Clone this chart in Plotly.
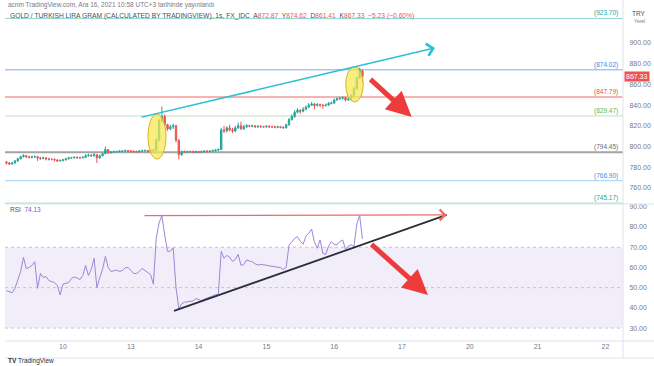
import plotly.graph_objects as go

# ---------------- data ----------------
DAY_TICKS = [1, 2, 3, 4, 5, 6, 7, 8, 9]
DAY_LABELS = ["10", "13", "14", "15", "16", "17", "20", "21", "22"]

# trading sessions: (trading-day index, first hour, last hour)  Dec 9,10,13,14,15,16
SESSIONS = [(0, 4, 23), (1, 0, 23), (2, 0, 23), (3, 0, 23), (4, 0, 23), (5, 0, 10)]

OPEN_DEC09 = [785, 784, 783, 784, 786, 788, 790, 791, 790, 789.5, 790, 790, 789, 788.5, 789, 788, 787.5, 787.5, 787, 786]
CLOSE_DEC09 = [784, 783, 784, 786, 788, 790, 791, 790, 789.5, 790, 790, 789, 788.5, 789, 788, 787.5, 787.5, 787, 786, 786.5]
HIGH_DEC09 = [786, 785, 785, 787, 789, 791, 792.5, 792, 791, 791, 791.5, 791, 790, 790, 789.5, 789, 788.5, 788.5, 787.5, 787.5]
LOW_DEC09 = [782.5, 782, 782.5, 783.5, 785.5, 787.5, 789.5, 789, 788.5, 788.5, 789, 786, 787, 787.5, 786.5, 786.5, 786.5, 785.5, 785, 785.5]

OPEN_DEC10 = [786.5, 787, 788, 789, 789, 789.5, 789, 789, 789.5, 791, 791.5, 791, 792, 789, 791, 793, 797, 794, 794.5, 795, 795, 795.5, 795.5, 796]
CLOSE_DEC10 = [787, 788, 789, 789, 789.5, 789, 789, 789.5, 791, 791.5, 791, 792, 789, 791, 793, 797, 794, 794.5, 795, 795, 795.5, 795.5, 796, 795.5]
HIGH_DEC10 = [788, 789, 790, 790, 790.5, 790.5, 790, 790.5, 792.5, 793, 792.5, 793.5, 792.5, 792, 794, 800, 797.5, 795.5, 796, 796, 796.5, 796.5, 797, 796.5]
LOW_DEC10 = [785.5, 786.5, 787.5, 788, 788.5, 788, 788, 788.5, 789, 790, 790, 790.5, 784, 788, 790.5, 792.5, 792.5, 793, 794, 794, 794.5, 794.5, 795, 794.5]

OPEN_DEC13 = [795.5, 795.5, 795, 795, 795.5, 796, 796, 795.5, 796, 796.5, 806, 825, 829, 821, 817, 819, 820, 806, 792, 795, 794.5, 795, 795, 794.5]
CLOSE_DEC13 = [795.5, 795, 795, 795.5, 796, 796, 795.5, 796, 796.5, 806, 825, 829, 821, 817, 819, 820, 806, 792, 795, 794.5, 795, 795, 794.5, 795]
HIGH_DEC13 = [796.5, 796, 796, 796.5, 797, 797, 796.5, 797, 797.5, 808, 827, 838.5, 831, 822, 821, 822, 821, 807, 796, 796, 796, 796, 796, 796]
LOW_DEC13 = [794.5, 794, 794, 794.5, 795, 795, 794.5, 795, 795, 795.5, 805, 823, 819, 815, 815.5, 817, 804, 787.5, 791, 793.5, 793.5, 794, 793.5, 793.5]

OPEN_DEC14 = [795, 794.5, 795, 795.5, 795, 795.5, 796, 796.5, 797, 816, 815, 818, 816, 815, 818, 820, 817, 819, 820, 819.5, 820, 819, 819.5, 819]
CLOSE_DEC14 = [794.5, 795, 795.5, 795, 795.5, 796, 796.5, 797, 816, 815, 818, 816, 815, 818, 820, 817, 819, 820, 819.5, 820, 819, 819.5, 819, 819]
HIGH_DEC14 = [795.5, 796, 796.5, 796.5, 796.5, 797, 797.5, 798, 818, 820, 819.5, 821, 818, 820, 823, 824, 821, 821.5, 821, 821, 820.5, 820.5, 820.5, 820]
LOW_DEC14 = [793.5, 793.5, 794, 794, 794.5, 795, 795, 795.5, 796.5, 813, 813.5, 814.5, 813, 814, 817, 816, 816, 818, 818.5, 818.5, 818, 818, 818, 818]

OPEN_DEC15 = [819, 819.5, 819, 819, 818.5, 819, 818.5, 818, 821, 826, 829, 833, 835, 834, 836, 838, 840, 841, 839.5, 840.5, 840, 839.5, 840, 841.5]
CLOSE_DEC15 = [819.5, 819, 819, 818.5, 819, 818.5, 818, 821, 826, 829, 833, 835, 834, 836, 838, 840, 841, 839.5, 840.5, 840, 839.5, 840, 841.5, 842]
HIGH_DEC15 = [820.5, 820.5, 820, 820, 820, 819.5, 819.5, 822, 827.5, 831, 835, 837, 836, 838, 839.5, 842, 843, 842, 842, 841.5, 841, 841.5, 843, 843.5]
LOW_DEC15 = [818, 818, 818, 817.5, 817.5, 817.5, 817, 817.5, 820, 825, 827.5, 832, 831.5, 833, 835, 837, 839, 836, 838.5, 838, 836.5, 838.5, 839, 840.5]

OPEN_DEC16 = [842, 845, 846, 846.5, 847, 845, 845.5, 849, 856, 866, 872.87]
CLOSE_DEC16 = [845, 846, 846.5, 847, 845, 845.5, 849, 856, 866, 874, 867.33]
HIGH_DEC16 = [846.5, 847.5, 848, 848.5, 848, 847, 850.5, 857.5, 867.5, 876, 874.62]
LOW_DEC16 = [841, 844, 845, 845.5, 843.5, 844, 844.5, 848, 855, 865, 861.41]

RSI_DEC09 = [48.5, 47.8, 47.5, 49.7, 53.5, 58, 65, 59.5, 60, 61, 62.9, 49.7, 57, 55, 55.5, 53.5, 53, 52.5, 51, 46.4]
RSI_DEC10 = [51.8, 52, 52.5, 54.5, 55.3, 54.8, 54, 56, 61, 56, 59, 64.5, 50, 55, 59, 65.5, 60, 58, 58.3, 58.7, 58, 58.5, 59.8, 60]
RSI_DEC13 = [58.6, 57, 57, 58, 59.5, 58.6, 57.8, 56.5, 51.7, 74.5, 82, 85.7, 76, 68, 68, 69.8, 50, 39.5, 42, 42.8, 43, 43.2, 43.4, 44.6]
RSI_DEC14 = [44, 43.6, 44.3, 44.8, 45.5, 46, 46.4, 47, 68, 64.5, 66, 65, 63, 64, 66.5, 61, 61.5, 63.7, 63.2, 62.8, 61.8, 61.2, 61.5, 61.4]
RSI_DEC15 = [61.1, 60.8, 60.6, 60.4, 60.1, 59.9, 59, 60, 71, 73, 74.4, 75.2, 73, 71.5, 75.5, 77, 79, 72.5, 69.5, 73.6, 67, 66.5, 70.5, 72.8]
RSI_DEC16 = [71.5, 71.2, 72.8, 73.6, 69, 70.5, 71.2, 70.3, 81.5, 85.7, 74.13]

LEVELS = [923.70, 874.02, 847.79, 829.47, 794.45, 766.90, 745.17]
LEVEL_LABELS = ["(923.70)", "(874.02)", "(847.79)", "(829.47)", "(794.45)", "(766.90)", "(745.17)"]

PRICE_TICKS = [760, 780, 800, 820, 840, 860, 880, 900]
RSI_TICKS = [30, 40, 50, 60, 70, 80, 90]
LAST_PRICE = 867.33
LAST_RSI = 74.13

# ---------------- assemble ----------------
OPEN = OPEN_DEC09 + OPEN_DEC10 + OPEN_DEC13 + OPEN_DEC14 + OPEN_DEC15 + OPEN_DEC16
HIGH = HIGH_DEC09 + HIGH_DEC10 + HIGH_DEC13 + HIGH_DEC14 + HIGH_DEC15 + HIGH_DEC16
LOW = LOW_DEC09 + LOW_DEC10 + LOW_DEC13 + LOW_DEC14 + LOW_DEC15 + LOW_DEC16
CLOSE = CLOSE_DEC09 + CLOSE_DEC10 + CLOSE_DEC13 + CLOSE_DEC14 + CLOSE_DEC15 + CLOSE_DEC16
RSI = RSI_DEC09 + RSI_DEC10 + RSI_DEC13 + RSI_DEC14 + RSI_DEC15 + RSI_DEC16

X = []
for d, h0, h1 in SESSIONS:
    for h in range(h0, h1 + 1):
        X.append(d + h / 24.0)

assert len(X) == len(OPEN) == len(HIGH) == len(LOW) == len(CLOSE) == len(RSI), \
    (len(X), len(OPEN), len(HIGH), len(LOW), len(CLOSE), len(RSI))

# ---------------- styling / layout geometry ----------------
W, H = 654, 366
ML, MR, MT, MB = 5, 31, 0, 25
PW, PH = W - ML - MR, H - MT - MB
SPLIT = 137 / PH  # paper fraction of RSI pane

FONT = "Liberation Sans, Arial, sans-serif"
GREY = "#787b86"
UP, DOWN = "#26a69a", "#ef5350"

LEVEL_LINE_COLORS = ["#8fd6d0", "#7fa6ee", "#f59a9a", "#bfe0bf", "#a3a3a3", "#9fd0f5", "#8fd6d0"]
LEVEL_TEXT_COLORS = ["#26a69a", "#4a7fe0", "#e5534b", "#5cb860", "#6b6e78", "#3d8fe0", "#26a69a"]
LEVEL_WIDTHS = [1, 1, 1.6, 1, 2, 1, 1]


def px(xp):
    return (xp - ML) / PW


def py(yp):
    return (PH - (yp - MT)) / PH


fig = go.Figure()

fig.add_trace(go.Candlestick(
    x=X, open=OPEN, high=HIGH, low=LOW, close=CLOSE,
    increasing=dict(line=dict(color=UP, width=1), fillcolor=UP),
    decreasing=dict(line=dict(color=DOWN, width=1), fillcolor=DOWN),
    whiskerwidth=0, xaxis="x", yaxis="y", showlegend=False, hoverinfo="skip",
))

fig.add_trace(go.Scatter(
    x=X, y=RSI, mode="lines", line=dict(color="#9d86d6", width=1),
    xaxis="x2", yaxis="y2", showlegend=False, hoverinfo="skip",
))

shapes = []
annotations = []

# RSI band + dashed guides
shapes.append(dict(type="rect", xref="paper", yref="y2", x0=0, x1=1, y0=30, y1=70,
                   fillcolor="rgba(126,87,194,0.10)", line=dict(width=0), layer="below"))
for lv in (70, 50, 30):
    shapes.append(dict(type="line", xref="paper", yref="y2", x0=0, x1=1, y0=lv, y1=lv,
                       line=dict(color="#c3c5cc", width=1, dash="3px,3px"), layer="below"))

# horizontal price levels
for lv, lab, lc, tc, lw in zip(LEVELS, LEVEL_LABELS, LEVEL_LINE_COLORS, LEVEL_TEXT_COLORS, LEVEL_WIDTHS):
    shapes.append(dict(type="line", xref="paper", yref="y", x0=0, x1=1, y0=lv, y1=lv,
                       line=dict(color=lc, width=lw), layer="below"))
    annotations.append(dict(xref="paper", yref="y", x=px(620), y=lv, text=lab, showarrow=False,
                            xanchor="right", yanchor="bottom", yshift=-1,
                            font=dict(family=FONT, size=6.5, color=tc)))

# highlight ellipses
ELLIPSE_1 = (2.254, 2.519, 787.9, 831.4)
ELLIPSE_2 = (5.170, 5.429, 843.0, 877.1)
for x0, x1, y0, y1 in (ELLIPSE_1, ELLIPSE_2):
    shapes.append(dict(type="circle", xref="x", yref="y", x0=x0, x1=x1, y0=y0, y1=y1,
                       fillcolor="rgba(248,232,80,0.72)", line=dict(color="#d8b32a", width=1),
                       layer="above"))

# rising trend line on price (cyan, open arrow)
TREND_PRICE = ((2.136, 828.0), (6.487, 895.2))
annotations.append(dict(xref="x", yref="y", axref="x", ayref="y",
                        x=TREND_PRICE[1][0], y=TREND_PRICE[1][1],
                        ax=TREND_PRICE[0][0], ay=TREND_PRICE[0][1],
                        text="", showarrow=True, arrowhead=4, arrowsize=1.6, arrowwidth=1.5,
                        arrowcolor="#2bbfd6"))

# RSI horizontal red line with open arrow
TREND_RSI_TOP = ((2.18, 85.6), (6.659, 86.0))
annotations.append(dict(xref="x2", yref="y2", axref="x2", ayref="y2",
                        x=TREND_RSI_TOP[1][0], y=TREND_RSI_TOP[1][1],
                        ax=TREND_RSI_TOP[0][0], ay=TREND_RSI_TOP[0][1],
                        text="", showarrow=True, arrowhead=4, arrowsize=1.6, arrowwidth=1.3,
                        arrowcolor="#f06a6a"))

# RSI rising support line (black)
TREND_RSI_LOW = ((2.637, 38.5), (6.659, 86.0))
shapes.append(dict(type="line", xref="x2", yref="y2",
                   x0=TREND_RSI_LOW[0][0], y0=TREND_RSI_LOW[0][1],
                   x1=TREND_RSI_LOW[1][0], y1=TREND_RSI_LOW[1][1],
                   line=dict(color="#2a2e39", width=1.8), layer="above"))

# big red arrows
ARROW_PRICE = ((5.513, 866.2), (6.143, 828.5))
ARROW_RSI = ((5.528, 72.1), (6.383, 46.4))
annotations.append(dict(xref="x", yref="y", axref="x", ayref="y",
                        x=ARROW_PRICE[1][0], y=ARROW_PRICE[1][1],
                        ax=ARROW_PRICE[0][0], ay=ARROW_PRICE[0][1],
                        text="", showarrow=True, arrowhead=2, arrowsize=1.0, arrowwidth=5,
                        arrowcolor="#ee3b3b"))
annotations.append(dict(xref="x2", yref="y2", axref="x2", ayref="y2",
                        x=ARROW_RSI[1][0], y=ARROW_RSI[1][1],
                        ax=ARROW_RSI[0][0], ay=ARROW_RSI[0][1],
                        text="", showarrow=True, arrowhead=2, arrowsize=1.0, arrowwidth=5,
                        arrowcolor="#ee3b3b"))

# pane borders
BORDER = "#e0e3eb"
shapes.append(dict(type="line", xref="paper", yref="paper", x0=0, x1=px(W), y0=SPLIT, y1=SPLIT,
                   line=dict(color=BORDER, width=1)))
shapes.append(dict(type="line", xref="paper", yref="paper", x0=0, x1=px(W), y0=0, y1=0,
                   line=dict(color=BORDER, width=1)))
shapes.append(dict(type="line", xref="paper", yref="paper", x0=0, x1=px(W), y0=py(358), y1=py(358),
                   line=dict(color=BORDER, width=1)))
shapes.append(dict(type="line", xref="paper", yref="paper", x0=1, x1=1, y0=py(358), y1=1,
                   line=dict(color=BORDER, width=1)))

# last price tag
annotations.append(dict(xref="paper", yref="y", x=1, y=LAST_PRICE, text=f"{LAST_PRICE:.2f}",
                        showarrow=False, xanchor="left", yanchor="middle", xshift=1,
                        bgcolor="#ef5350", borderpad=1,
                        font=dict(family=FONT, size=7, color="white")))

# header texts
annotations.append(dict(xref="paper", yref="paper", x=px(6), y=py(5), xanchor="left", yanchor="middle",
                        showarrow=False,
                        text="acnm TradingView.com, Ara 16, 2021 10:58 UTC+3 tarihinde yayınlandı",
                        font=dict(family=FONT, size=6.5, color=GREY)))
RED = "#ef5350"
hdr2 = ("GOLD / TURKISH LIRA GRAM (CALCULATED BY TRADINGVIEW), 1s, FX_IDC  "
        f"A<span style='color:{RED}'>872.87</span>  Y<span style='color:{RED}'>874.62</span>  "
        f"D<span style='color:{RED}'>861.41</span>  K<span style='color:{RED}'>867.33</span>  "
        f"<span style='color:{RED}'>−5.23 (−0.60%)</span>")
annotations.append(dict(xref="paper", yref="paper", x=px(8), y=py(16), xanchor="left", yanchor="middle",
                        showarrow=False, text=hdr2, font=dict(family=FONT, size=6.7, color="#4a4e59")))
annotations.append(dict(xref="paper", yref="paper", x=px(8), y=py(209), xanchor="left", yanchor="middle",
                        showarrow=False,
                        text=f"RSI  <span style='color:#7e57c2'>{LAST_RSI:.2f}</span>",
                        font=dict(family=FONT, size=6.5, color="#4a4e59")))
annotations.append(dict(xref="paper", yref="paper", x=px(639), y=py(14), xanchor="center", yanchor="middle",
                        showarrow=False, text="TRY", font=dict(family=FONT, size=6.5, color="#4a4e59")))
annotations.append(dict(xref="paper", yref="paper", x=px(639), y=py(21), xanchor="center", yanchor="middle",
                        showarrow=False, text="Yerel", font=dict(family=FONT, size=5, color=GREY)))
annotations.append(dict(xref="paper", yref="paper", x=px(6), y=py(361), xanchor="left", yanchor="middle",
                        showarrow=False,
                        text="<b>TV</b> TradingView", font=dict(family=FONT, size=6.5, color="#2a2e39")))

fig.update_layout(
    width=W, height=H,
    margin=dict(l=ML, r=MR, t=MT, b=MB),
    paper_bgcolor="white", plot_bgcolor="white",
    font=dict(family=FONT, size=7, color=GREY),
    showlegend=False,
    shapes=shapes, annotations=annotations,
    xaxis=dict(domain=[0, 1], anchor="y", range=[0.1445, 9.2596], showticklabels=False,
               showgrid=False, zeroline=False, rangeslider=dict(visible=False), matches="x2"),
    xaxis2=dict(domain=[0, 1], anchor="y2", range=[0.1445, 9.2596], tickvals=DAY_TICKS,
                ticktext=DAY_LABELS, showgrid=False, zeroline=False, ticks="",
                tickfont=dict(family=FONT, size=7, color=GREY), rangeslider=dict(visible=False)),
    yaxis=dict(domain=[SPLIT, 1], range=[744.4, 941.5], side="right", tickvals=PRICE_TICKS,
               ticktext=[f"{v:.2f}" for v in PRICE_TICKS], showgrid=False, zeroline=False,
               ticks="outside", ticklen=4, tickcolor="rgba(0,0,0,0)",
               tickfont=dict(family=FONT, size=7, color=GREY)),
    yaxis2=dict(domain=[0, SPLIT], range=[23.6, 91.4], side="right", tickvals=RSI_TICKS,
                ticktext=[f"{v:.2f}" for v in RSI_TICKS], showgrid=False, zeroline=False,
                ticks="outside", ticklen=4, tickcolor="rgba(0,0,0,0)",
                tickfont=dict(family=FONT, size=7, color=GREY)),
)

fig.write_html("out.html", config={"displayModeBar": False},
               post_script="document.body.style.margin='0';document.body.style.padding='0';")
